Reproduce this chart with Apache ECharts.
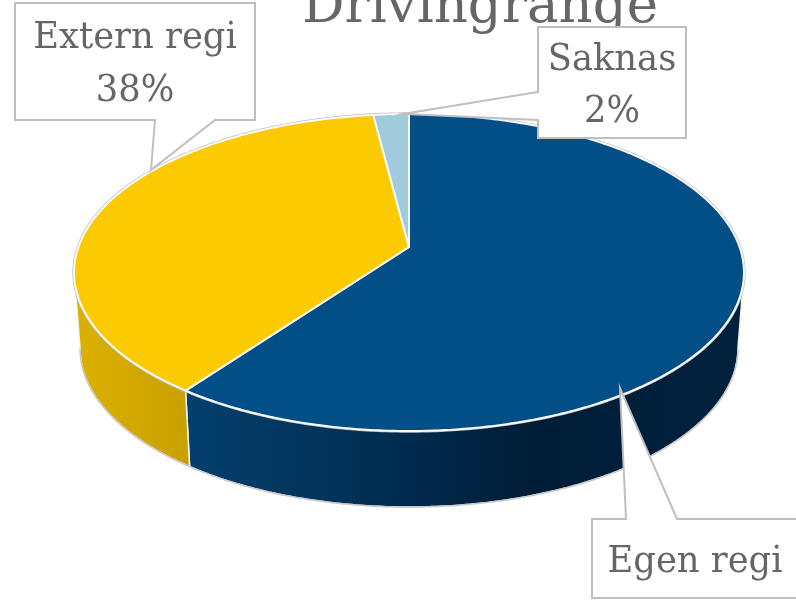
<!DOCTYPE html>
<html>
<head>
<meta charset="utf-8">
<style>
html, body { margin: 0; padding: 0; background: #fff; overflow: hidden; }
#chart { width: 796px; height: 600px; }
</style>
<script src="https://cdn.jsdelivr.net/npm/echarts@6/dist/echarts.min.js"></script>
</head>
<body>
<div id="chart"></div>
<script>
var categories = ['Egen regi', 'Extern regi', 'Saknas'];
var shares = [60, 38, 2];
var chartTitle = 'Drivingrange';

var topColors = ['#014f86', '#fcca00', '#9fcbdc'];
var labelFont = '"DejaVu Serif"';
var textColor = '#666666';
var lineColor = '#bfbfbf';

// tilted disc: apex of the pie + perspective factor
var apexX = 409, apexY = 247;
var persp = 0.1609, depthY = -114.66, radiusX = 330.6;
var wallHeight = 76, wallShrink = 0.982;

var total = shares.reduce(function (a, b) { return a + b; }, 0);

function rim(theta) {
    // theta runs clockwise from 12 o'clock
    var u = Math.sin(theta), v = Math.cos(theta), w = 1 + persp * v;
    return [apexX + radiusX * u / w, (apexY + depthY * v) / w];
}

function floorPoint(p) {
    return [apexX + (p[0] - apexX) * wallShrink, p[1] + wallHeight];
}

function sliceRange(index) {
    var before = 0;
    for (var i = 0; i < index; i++) before += shares[i];
    return [before / total * Math.PI * 2, (before + shares[index]) / total * Math.PI * 2];
}

function arcPoints(a, b) {
    var pts = [], n = Math.max(2, Math.ceil((b - a) / 0.01));
    for (var i = 0; i <= n; i++) pts.push(rim(a + (b - a) * i / n));
    return pts;
}

// the wall is only seen between the two widest points of the ellipse
var wallFrom = Math.acos(-persp), wallTo = Math.PI * 2 - wallFrom;

var wallFills = [
    new echarts.graphic.LinearGradient(187, 0, 740, 0, [
        {offset: 0, color: '#043f6d'},
        {offset: 0.35, color: '#012e52'},
        {offset: 0.62, color: '#001d37'},
        {offset: 1, color: '#00213d'}
    ], true),
    new echarts.graphic.LinearGradient(78, 0, 191, 0, [
        {offset: 0, color: '#dcb000'},
        {offset: 1, color: '#c8a000'}
    ], true),
    '#8ab0c0'
];

function renderWall(params, api) {
    var range = sliceRange(params.dataIndex);
    var a = Math.max(range[0], wallFrom), b = Math.min(range[1], wallTo);
    if (b <= a) return {type: 'group', children: []};
    var upper = arcPoints(a, b);
    var lower = upper.map(floorPoint);
    return {
        type: 'group',
        children: [
            {
                type: 'polygon',
                shape: {points: upper.concat(lower.slice().reverse())},
                style: {fill: wallFills[params.dataIndex], stroke: '#f4f4f4', lineWidth: 1.5}
            },
            {
                type: 'polyline',
                shape: {points: lower},
                style: {fill: 'none', stroke: '#c8c8c8', lineWidth: 1.5}
            }
        ]
    };
}

function renderTop(params, api) {
    var range = sliceRange(params.dataIndex);
    var outer = arcPoints(range[0], range[1]);
    return {
        type: 'group',
        children: [
            {
                type: 'polyline',
                shape: {points: outer},
                style: {fill: 'none', stroke: lineColor, lineWidth: 3.4}
            },
            {
                type: 'polygon',
                shape: {points: [[apexX, apexY]].concat(outer)},
                style: {fill: topColors[params.dataIndex], stroke: '#fafafa', lineWidth: 2, lineJoin: 'round'}
            }
        ]
    };
}

function callout(points, lines) {
    var children = [{
        type: 'polygon',
        z: 20,
        shape: {points: points},
        style: {fill: '#fff', stroke: lineColor, lineWidth: 2}
    }];
    lines.forEach(function (l) {
        children.push({
            type: 'text',
            z: 21,
            x: l.x,
            y: l.y,
            scaleX: 0.93,
            style: {
                text: l.text, fill: textColor, font: '38px ' + labelFont,
                textAlign: 'center', textVerticalAlign: 'middle'
            }
        });
    });
    return {type: 'group', children: children};
}

var option = {
    animation: false,
    backgroundColor: '#fff',
    title: {
        text: chartTitle,
        left: 475,
        textAlign: 'center',
        top: -23,
        textStyle: {color: textColor, fontFamily: labelFont, fontWeight: 'normal', fontSize: 53}
    },
    series: [
        {
            type: 'custom',
            coordinateSystem: 'none',
            renderItem: renderWall,
            data: shares,
            z: 2,
            silent: true
        },
        {
            type: 'custom',
            coordinateSystem: 'none',
            renderItem: renderTop,
            data: shares,
            z: 3,
            silent: true
        }
    ],
    graphic: [
        callout([[15, 3], [255, 3], [255, 120], [215, 120], [151, 170], [155, 120], [15, 120]],
            [{text: categories[1], x: 135, y: 38}, {text: shares[1] + '%', x: 135, y: 91}]),
        callout([[538, 27], [686, 27], [686, 138], [538, 138], [538, 120], [403, 114], [538, 92]],
            [{text: categories[2], x: 612, y: 60}, {text: shares[2] + '%', x: 612, y: 112}]),
        callout([[592, 519], [626, 519], [620, 388], [677, 519], [800, 519], [800, 598], [592, 598]],
            [{text: categories[0], x: 695, y: 562}])
    ]
};

var myChart = echarts.init(document.getElementById('chart'));
myChart.setOption(option);
</script>
</body>
</html>
